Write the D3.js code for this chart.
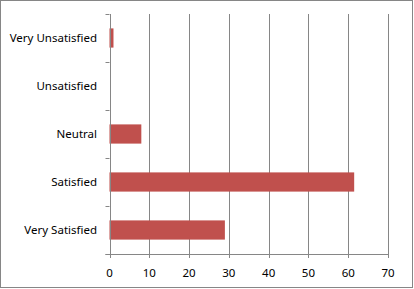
<!DOCTYPE html>
<html>
<head>
<meta charset="UTF-8">
<script src="https://cdn.jsdelivr.net/npm/d3@7"></script>
<style>
  body { margin: 0; background: #fff; }
  text { font-family: "Noto Sans", "DejaVu Sans", Arial, sans-serif; font-size: 11.5px; fill: #000; }
</style>
</head>
<body>
<svg id="chart"></svg>
<script>
// satisfaction survey, bars
var categories = ["Very Unsatisfied", "Unsatisfied", "Neutral", "Satisfied", "Very Satisfied"];
var values = [1, 0, 8, 61.5, 29];
var xTicks = [0, 10, 20, 30, 40, 50, 60, 70];

var width = 414, height = 289;
var margin = {top: 14, right: 26, bottom: 35, left: 109.5};

var svg = d3.select("#chart")
    .attr("width", width)
    .attr("height", height);

// outer frame
svg.append("rect")
    .attr("x", 0.5).attr("y", 0.5)
    .attr("width", width - 2).attr("height", height - 2)
    .attr("fill", "#fff")
    .attr("stroke", "#868686");

var x = d3.scaleLinear()
    .domain([0, 70])
    .range([margin.left, width - margin.right]);

var y = d3.scaleBand()
    .domain(categories)
    .range([margin.top, height - margin.bottom])
    .paddingInner(0.6)
    .paddingOuter(0.3);

var yEdges = d3.scaleLinear()
    .domain([0, categories.length])
    .range([margin.top, height - margin.bottom]);

var plotBottom = height - margin.bottom;

// vertical gridlines
svg.selectAll("line.grid")
    .data(xTicks.slice(1))
    .enter()
    .append("line")
    .attr("class", "grid")
    .attr("x1", function (d) { return Math.round(x(d)) + 0.5; })
    .attr("x2", function (d) { return Math.round(x(d)) + 0.5; })
    .attr("y1", margin.top)
    .attr("y2", plotBottom + 4)
    .attr("stroke", "#868686");

// bars
svg.selectAll("rect.bar")
    .data(values)
    .enter()
    .append("rect")
    .attr("class", "bar")
    .attr("x", x(0))
    .attr("y", function (d, i) { return y(categories[i]); })
    .attr("width", function (d) { return x(d) - x(0); })
    .attr("height", y.bandwidth())
    .attr("fill", "#C0504D");

// left axis line and category ticks
svg.append("line")
    .attr("x1", Math.round(x(0)) + 0.5).attr("x2", Math.round(x(0)) + 0.5)
    .attr("y1", margin.top).attr("y2", plotBottom + 4)
    .attr("stroke", "#868686");

svg.selectAll("line.ytick")
    .data(d3.range(categories.length + 1))
    .enter()
    .append("line")
    .attr("class", "ytick")
    .attr("x1", x(0) - 4).attr("x2", x(0))
    .attr("y1", function (d) { return Math.round(yEdges(d)) + 0.5; })
    .attr("y2", function (d) { return Math.round(yEdges(d)) + 0.5; })
    .attr("stroke", "#868686");

// bottom axis line
svg.append("line")
    .attr("x1", x(0) - 4).attr("x2", x(70) + 0.5)
    .attr("y1", Math.round(plotBottom) + 0.5).attr("y2", Math.round(plotBottom) + 0.5)
    .attr("stroke", "#868686");

// category labels
svg.selectAll("text.cat")
    .data(categories)
    .enter()
    .append("text")
    .attr("class", "cat")
    .attr("x", 97)
    .attr("y", function (d) { return y(d) + y.bandwidth() / 2; })
    .attr("dy", "0.35em")
    .attr("text-anchor", "end")
    .text(function (d) { return d; });

// x tick labels
svg.selectAll("text.xlab")
    .data(xTicks)
    .enter()
    .append("text")
    .attr("class", "xlab")
    .attr("x", function (d) { return x(d); })
    .attr("y", 273)
    .attr("dy", "0.35em")
    .attr("text-anchor", "middle")
    .text(function (d) { return d; });
</script>
</body>
</html>
